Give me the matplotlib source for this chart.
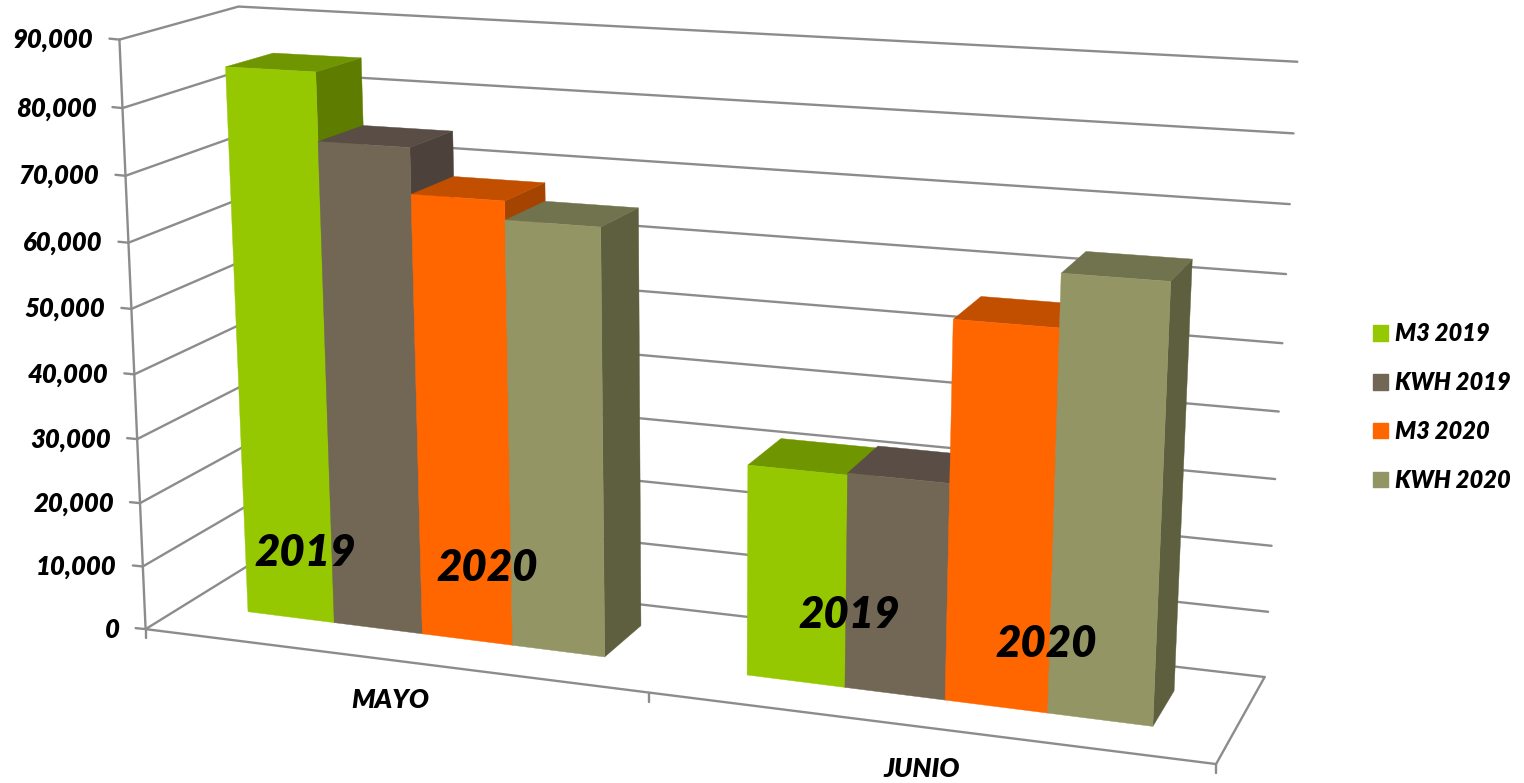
#!/usr/bin/env python
"""Excel style 3D clustered columns, MAYO / JUNIO, drawn through fitted perspectives."""
import numpy as np
import matplotlib
matplotlib.use("Agg")
import matplotlib.pyplot as plt
from matplotlib.patches import Patch, Polygon

categories = ["MAYO", "JUNIO"]
series = ["M3 2019", "KWH 2019", "M3 2020", "KWH 2020"]
m3_2019 = [84900, 31800]
kwh_2019 = [74600, 32100]
m3_2020 = [67700, 55600]
kwh_2020 = [64900, 63200]
y_ticks = list(range(0, 90001, 10000))
y_max = 90000

front_colors = ["#95C800", "#726755", "#FF6600", "#939664"]
top_colors = ["#6F9500", "#594D45", "#C24F00", "#70734E"]
side_colors = ["#5E7D00", "#4C423B", "#A54300", "#5D5F3F"]
grid_color = "#8C8C8C"

BAR_W = 1 / 5.5
NEAR, FAR = 0.33, 0.68

# calibration in picture pixels: (category, value share, depth) -> (px, py)
frame = [
    ((0, 0, 0), (148, 627)),
    ((0, 1, 0), (117, 40)),
    ((0, 1, 1), (241, 6)),
    ((0, 0, 1), (255, 562)),
    ((2, 0, 1), (1265, 675)),
    ((2, 1, 1), (1297, 62)),
    ((2, 0, 0), (1216, 766)),
]
columns = [
    ((0.136, 0, NEAR), (248, 611)),
    ((0.318, 0, NEAR), (334, 623)),
    ((1.682, 0, NEAR), (1048, 713)),
    ((1.864, 0, NEAR), (1153, 727)),
    ((1.864, 0, FAR), (1174, 691)),
    ((0.136, 0.943, NEAR), (225, 67)),
    ((0.318, 0.943, NEAR), (316, 72)),
    ((0.318, 0.943, FAR), (362, 59)),
    ((0.136, 0.943, FAR), (272, 53)),
    ((1.864, 0.702, NEAR), (1170, 282)),
    ((1.682, 0.702, NEAR), (1062, 273)),
    ((1.864, 0.702, FAR), (1192, 259)),
    ((1.682, 0.702, FAR), (1087, 251)),
]


def fit_camera(pairs):
    rows = []
    for (x, y, z), (u, v) in pairs:
        rows.append([x, y, z, 1, 0, 0, 0, 0, -u * x, -u * y, -u * z, -u])
        rows.append([0, 0, 0, 0, x, y, z, 1, -v * x, -v * y, -v * z, -v])
    return np.linalg.svd(np.array(rows, dtype=float))[2][-1].reshape(3, 4)


CAM_FRAME = fit_camera(frame)
CAM_BARS = fit_camera(columns)


def project(cat, value, depth, cam=CAM_FRAME):
    p = cam @ np.array([cat, value / y_max, depth, 1.0])
    return p[0] / p[2], p[1] / p[2]


def draw_line(ax, points, lw=1.7):
    xs, ys = zip(*points)
    ax.plot(xs, ys, color=grid_color, lw=lw, solid_capstyle="round", zorder=1)


def draw_column(ax, left, right, value, i):
    def p(c, v, d):
        return project(c, v, d, CAM_BARS)

    front = [p(left, 0, NEAR), p(right, 0, NEAR), p(right, value, NEAR), p(left, value, NEAR)]
    side = [p(right, 0, NEAR), p(right, 0, FAR), p(right, value, FAR), p(right, value, NEAR)]
    top = [p(left, value, NEAR), p(right, value, NEAR), p(right, value, FAR), p(left, value, FAR)]
    for pts, c in ((side, side_colors[i]), (top, top_colors[i]), (front, front_colors[i])):
        ax.add_patch(Polygon(pts, closed=True, fc=c, ec=c, lw=0.3, zorder=2))


def main():
    plt.rcParams["font.family"] = ["Lato", "DejaVu Sans"]
    fig = plt.figure(figsize=(15.24, 7.83), dpi=100)
    ax = fig.add_axes([0, 0, 1, 1])
    ax.set_xlim(0, 1524)
    ax.set_ylim(783, 0)
    ax.axis("off")

    # walls and floor
    for t in y_ticks:
        draw_line(ax, [project(0, t, 0), project(0, t, 1), project(2, t, 1)])
        x, y = project(0, t, 0)
        draw_line(ax, [(x - 10, y - 1), (x, y)])
        ax.text(x - 26, y + 0.5, f"{t:,}", ha="right", va="center", fontsize=18.5,
                fontweight="heavy", fontstyle="italic")
    draw_line(ax, [project(0, 0, 0), project(0, y_max, 0)])
    draw_line(ax, [project(0, 0, 0), project(2, 0, 0), project(2, 0, 1)])
    for c in range(3):
        x, y = project(c, 0, 0)
        draw_line(ax, [(x, y), (x, y + 9)])

    # columns
    values = [m3_2019, kwh_2019, m3_2020, kwh_2020]
    for c in range(len(categories)):
        start = c + 0.5 - 2 * BAR_W
        for i, vals in enumerate(values):
            draw_column(ax, start + i * BAR_W, start + (i + 1) * BAR_W, vals[c], i)

    for name, (tx, ty) in zip(categories, [(390, 700), (922, 769)]):
        ax.text(tx, ty, name, ha="center", va="center", fontsize=19,
                fontweight="heavy", fontstyle="italic")

    for label, (tx, ty) in zip(["2019", "2020", "2019", "2020"],
                               [(305, 553), (487, 568), (849, 615), (1046, 644)]):
        ax.text(tx, ty, label, ha="center", va="center", fontsize=31.5,
                fontweight="heavy", fontstyle="italic", color="black", zorder=5)

    handles = [Patch(fc=c, ec=c, label=s) for c, s in zip(front_colors, series)]
    ax.legend(handles=handles, loc="center left", bbox_to_anchor=(1352, 407),
              bbox_transform=ax.transData, frameon=False,
              handlelength=0.64, handleheight=0.64, handletextpad=0.3,
              labelspacing=1.09, prop={"size": 17, "weight": "heavy", "style": "italic"})

    fig.savefig("out.png", dpi=100, facecolor="white")
    print("wrote out.png")


if __name__ == "__main__":
    main()
